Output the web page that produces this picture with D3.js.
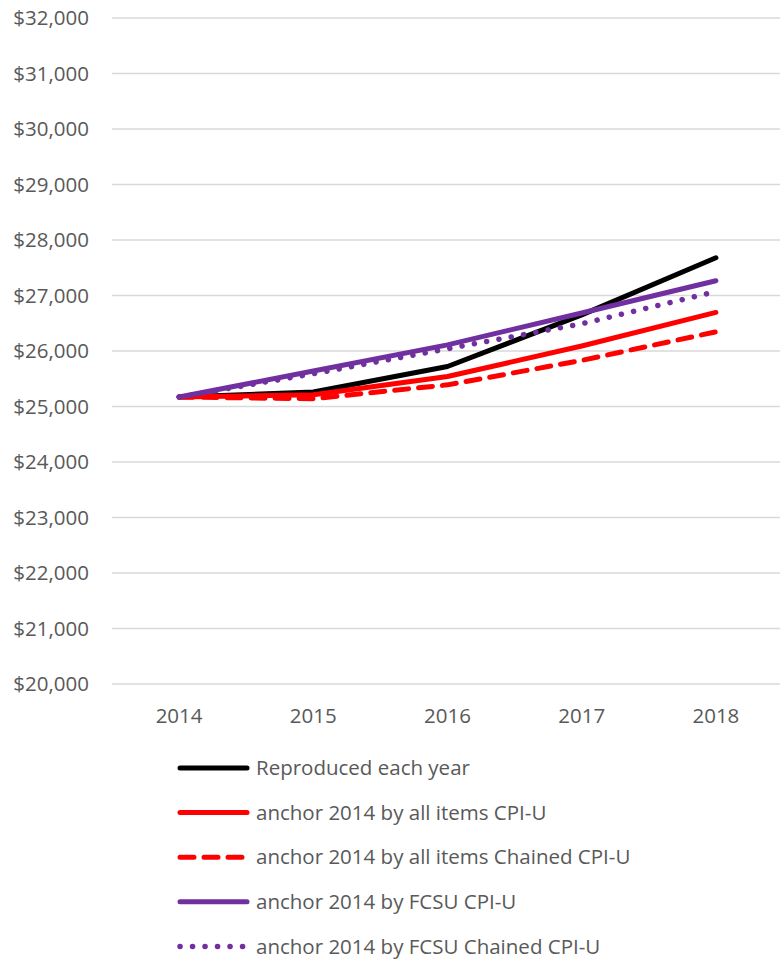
<!DOCTYPE html>
<html>
<head>
<meta charset="utf-8">
<script src="https://cdn.jsdelivr.net/npm/d3@7"></script>
<style>
  body { margin: 0; background: #fff; }
  text { font-family: "Open Sans", "Liberation Sans", sans-serif; fill: #595959; }
</style>
</head>
<body>
<script>
// chart values
let years = ["2014", "2015", "2016", "2017", "2018"];
let reproduced = [25170, 25260, 25720, 26650, 27680];
let allItemsCpi = [25170, 25210, 25540, 26090, 26695];
let allItemsChained = [25170, 25140, 25390, 25830, 26345];
let fcsuCpi = [25170, 25640, 26110, 26685, 27265];
let fcsuChained = [25170, 25590, 26040, 26490, 27070];
let yTicks = [20000, 21000, 22000, 23000, 24000, 25000, 26000, 27000, 28000, 29000, 30000, 31000, 32000];

let seriesList = [
  { name: "Reproduced each year", values: reproduced, color: "#000000", dash: null, dotted: false },
  { name: "anchor 2014 by all items CPI-U", values: allItemsCpi, color: "#ff0000", dash: null, dotted: false },
  { name: "anchor 2014 by all items Chained CPI-U", values: allItemsChained, color: "#ff0000", dash: "14,10", dotted: false },
  { name: "anchor 2014 by FCSU CPI-U", values: fcsuCpi, color: "#7030a0", dash: null, dotted: false },
  { name: "anchor 2014 by FCSU Chained CPI-U", values: fcsuChained, color: "#7030a0", dash: "0.1,12.4", dotted: true }
];

let width = 780, height = 961;
let plotLeft = 112, plotRight = 783, plotTop = 18, plotBottom = 684;
let fontSize = "20.5px";

let svg = d3.select("body").append("svg")
  .attr("width", width)
  .attr("height", height);

let x = d3.scalePoint().domain(years).range([plotLeft, plotRight]).padding(0.5);
let y = d3.scaleLinear().domain([20000, 32000]).range([plotBottom, plotTop]);

// gridlines
svg.append("g")
  .selectAll("line")
  .data(yTicks)
  .enter()
  .append("line")
  .attr("x1", plotLeft)
  .attr("x2", plotRight)
  .attr("y1", d => y(d))
  .attr("y2", d => y(d))
  .attr("stroke", "#d9d9d9")
  .attr("stroke-width", 1.3);

// y axis labels
let fmt = d3.format("$,");
svg.append("g")
  .selectAll("text")
  .data(yTicks)
  .enter()
  .append("text")
  .attr("x", 89)
  .attr("y", d => y(d))
  .attr("dy", "0.35em")
  .attr("text-anchor", "end")
  .style("font-size", fontSize)
  .text(d => fmt(d));

// x axis labels
svg.append("g")
  .selectAll("text")
  .data(years)
  .enter()
  .append("text")
  .attr("x", d => x(d))
  .attr("y", 723)
  .attr("text-anchor", "middle")
  .style("font-size", fontSize)
  .text(d => d);

let line = d3.line()
  .x((d, i) => x(years[i]))
  .y(d => y(d));

// series lines
seriesList.forEach(function(s) {
  svg.append("path")
    .datum(s.values)
    .attr("d", line)
    .attr("fill", "none")
    .attr("stroke", s.color)
    .attr("stroke-width", s.dotted ? 5.5 : 5)
    .attr("stroke-linecap", "round")
    .attr("stroke-linejoin", "round")
    .attr("stroke-dasharray", s.dash);
});

// legend
let legend = svg.append("g");
seriesList.forEach(function(s, i) {
  let ly = 768 + i * 44.6;
  legend.append("line")
    .attr("x1", 180)
    .attr("x2", s.dotted ? 243 : 247)
    .attr("y1", ly)
    .attr("y2", ly)
    .attr("stroke", s.color)
    .attr("stroke-width", s.dotted ? 5.5 : 5)
    .attr("stroke-linecap", "round")
    .attr("stroke-dasharray", s.dash);
  legend.append("text")
    .attr("x", 256)
    .attr("y", ly)
    .attr("dy", "0.35em")
    .style("font-size", fontSize)
    .text(s.name);
});
</script>
</body>
</html>
